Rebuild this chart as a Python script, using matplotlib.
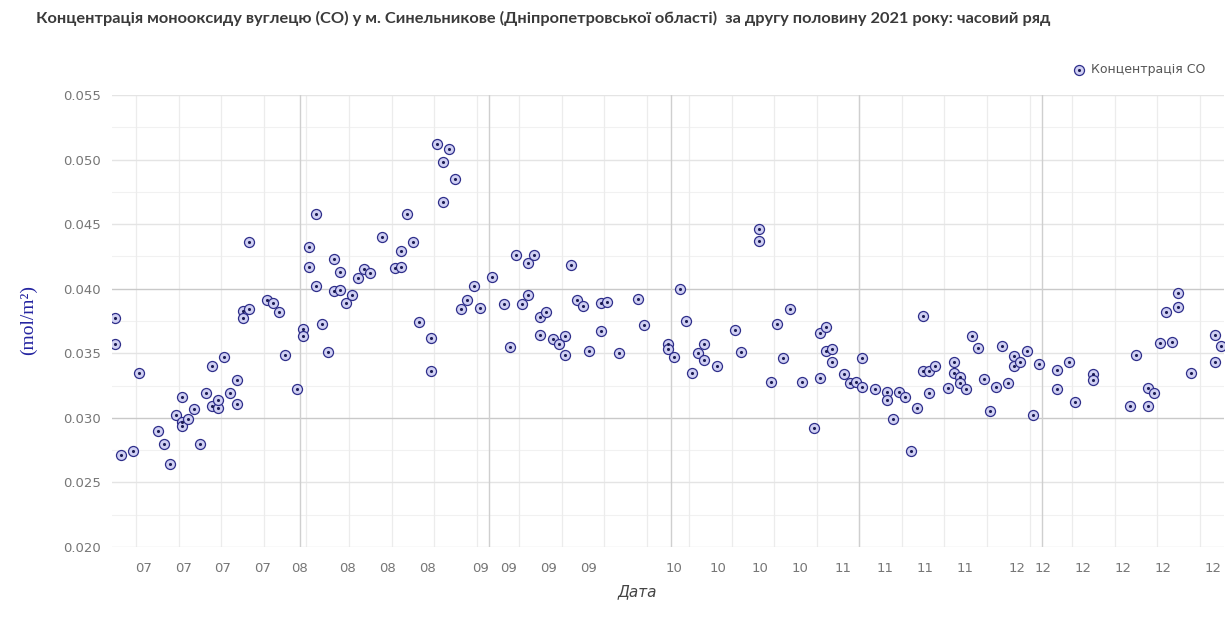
import matplotlib
matplotlib.use("Agg")
import matplotlib.pyplot as plt
from matplotlib.legend_handler import HandlerTuple
import pandas as pd
import numpy as np

title = ("Концентрація монооксиду вуглецю (CO) у м. Синельникове (Дніпропетровської області)  "
         "за другу половину 2021 року: часовий ряд")
series_name = "Концентрація CO"
x_title = "Дата"
y_title = "(mol/m²)"

dates = [
    "2021-07-01", "2021-07-01", "2021-07-02", "2021-07-04", "2021-07-05", "2021-07-08", "2021-07-09",
    "2021-07-10", "2021-07-11", "2021-07-12", "2021-07-12", "2021-07-12", "2021-07-13", "2021-07-14",
    "2021-07-15", "2021-07-16", "2021-07-17", "2021-07-17", "2021-07-18", "2021-07-18", "2021-07-19",
    "2021-07-20", "2021-07-21", "2021-07-21", "2021-07-22", "2021-07-22", "2021-07-23", "2021-07-23",
    "2021-07-26", "2021-07-27", "2021-07-28", "2021-07-29", "2021-07-31",
    "2021-08-01", "2021-08-01", "2021-08-02", "2021-08-02", "2021-08-03", "2021-08-03", "2021-08-04",
    "2021-08-05", "2021-08-06", "2021-08-06", "2021-08-07", "2021-08-07", "2021-08-08", "2021-08-09",
    "2021-08-10", "2021-08-11", "2021-08-12", "2021-08-14", "2021-08-16", "2021-08-17", "2021-08-17",
    "2021-08-18", "2021-08-19", "2021-08-20", "2021-08-22", "2021-08-22", "2021-08-23", "2021-08-24",
    "2021-08-24", "2021-08-25", "2021-08-26", "2021-08-27", "2021-08-28", "2021-08-29", "2021-08-30",
    "2021-09-01", "2021-09-03", "2021-09-04", "2021-09-05", "2021-09-06", "2021-09-07", "2021-09-07",
    "2021-09-08", "2021-09-09", "2021-09-09", "2021-09-10", "2021-09-11", "2021-09-12", "2021-09-13",
    "2021-09-13", "2021-09-14", "2021-09-15", "2021-09-16", "2021-09-17", "2021-09-19", "2021-09-19",
    "2021-09-20", "2021-09-22", "2021-09-25", "2021-09-26", "2021-09-30", "2021-09-30",
    "2021-10-01", "2021-10-02", "2021-10-03", "2021-10-04", "2021-10-05", "2021-10-06", "2021-10-06",
    "2021-10-08", "2021-10-11", "2021-10-12", "2021-10-15", "2021-10-15", "2021-10-17", "2021-10-18",
    "2021-10-19", "2021-10-20", "2021-10-22", "2021-10-24", "2021-10-25", "2021-10-25", "2021-10-26",
    "2021-10-26", "2021-10-27", "2021-10-27", "2021-10-29", "2021-10-30", "2021-10-31",
    "2021-11-01", "2021-11-01", "2021-11-03", "2021-11-05", "2021-11-05", "2021-11-06", "2021-11-07",
    "2021-11-08", "2021-11-09", "2021-11-10", "2021-11-11", "2021-11-11", "2021-11-12", "2021-11-12",
    "2021-11-13", "2021-11-15", "2021-11-16", "2021-11-16", "2021-11-17", "2021-11-17", "2021-11-18",
    "2021-11-19", "2021-11-20", "2021-11-21", "2021-11-22", "2021-11-23", "2021-11-24", "2021-11-25",
    "2021-11-26", "2021-11-26", "2021-11-27", "2021-11-28", "2021-11-29", "2021-11-30",
    "2021-12-03", "2021-12-03", "2021-12-05", "2021-12-06", "2021-12-09", "2021-12-09", "2021-12-15",
    "2021-12-16", "2021-12-18", "2021-12-18", "2021-12-19", "2021-12-20", "2021-12-21", "2021-12-22",
    "2021-12-23", "2021-12-23", "2021-12-25", "2021-12-29", "2021-12-29", "2021-12-30",
]

co_values = [
    0.0377, 0.0357, 0.0271, 0.0274, 0.0335, 0.0290, 0.0280,
    0.0264, 0.0302, 0.0297, 0.0294, 0.0316, 0.0299, 0.0307,
    0.0280, 0.0319, 0.0340, 0.0309, 0.0308, 0.0314, 0.0347,
    0.0319, 0.0329, 0.0311, 0.0383, 0.0377, 0.0384, 0.0436,
    0.0391, 0.0389, 0.0382, 0.0349, 0.0322,
    0.0369, 0.0363, 0.0432, 0.0417, 0.0458, 0.0402, 0.0373,
    0.0351, 0.0423, 0.0398, 0.0413, 0.0399, 0.0389, 0.0395,
    0.0408, 0.0415, 0.0412, 0.0440, 0.0416, 0.0417, 0.0429,
    0.0458, 0.0436, 0.0374, 0.0362, 0.0336, 0.0512, 0.0498,
    0.0467, 0.0508, 0.0485, 0.0384, 0.0391, 0.0402, 0.0385,
    0.0409, 0.0388, 0.0355, 0.0426, 0.0388, 0.0420, 0.0395,
    0.0426, 0.0378, 0.0364, 0.0382, 0.0361, 0.0357, 0.0363,
    0.0349, 0.0418, 0.0391, 0.0387, 0.0352, 0.0389, 0.0367,
    0.0390, 0.0350, 0.0392, 0.0372, 0.0357, 0.0353,
    0.0347, 0.0400, 0.0375, 0.0335, 0.0350, 0.0357, 0.0345,
    0.0340, 0.0368, 0.0351, 0.0446, 0.0437, 0.0328, 0.0373,
    0.0346, 0.0384, 0.0328, 0.0292, 0.0331, 0.0366, 0.0370,
    0.0352, 0.0353, 0.0343, 0.0334, 0.0327, 0.0328,
    0.0324, 0.0346, 0.0322, 0.0320, 0.0314, 0.0299, 0.0320,
    0.0316, 0.0274, 0.0308, 0.0379, 0.0336, 0.0336, 0.0319,
    0.0340, 0.0323, 0.0343, 0.0335, 0.0332, 0.0327, 0.0322,
    0.0363, 0.0354, 0.0330, 0.0305, 0.0324, 0.0356, 0.0327,
    0.0348, 0.0340, 0.0343, 0.0352, 0.0302, 0.0342,
    0.0337, 0.0322, 0.0343, 0.0312, 0.0334, 0.0329, 0.0309,
    0.0349, 0.0309, 0.0323, 0.0319, 0.0358, 0.0382, 0.0359,
    0.0386, 0.0397, 0.0335, 0.0364, 0.0343, 0.0356,
]

tick_dates = [
    "2021-07-06 05:00", "2021-07-12 19:00", "2021-07-19 05:00", "2021-07-25 19:00",
    "2021-07-31 19:00", "2021-08-08 17:00", "2021-08-15 07:00", "2021-08-22 00:00",
    "2021-08-30 14:00", "2021-09-04 05:00", "2021-09-10 19:00", "2021-09-17 10:00",
    "2021-10-01 12:00", "2021-10-08 19:00", "2021-10-15 17:00", "2021-10-22 05:00",
    "2021-10-29 07:00", "2021-11-05 05:00", "2021-11-11 19:00", "2021-11-18 10:00",
    "2021-11-26 22:00", "2021-12-01 05:00", "2021-12-07 19:00", "2021-12-14 10:00",
    "2021-12-21 00:00", "2021-12-29 05:00",
]
tick_labels = [
    "07", "07", "07", "07", "08", "08", "08", "08", "09", "09", "09", "09",
    "10", "10", "10", "10", "11", "11", "11", "11", "12", "12", "12", "12", "12", "12",
]
y_ticks = [0.020, 0.025, 0.030, 0.035, 0.040, 0.045, 0.050, 0.055]
y_tick_labels = ["0.020", "0.025", "0.030", "0.035", "0.040", "0.045", "0.050", "0.055"]

x_start = "2021-07-01"
x_end = "2021-12-31"

# ---------------------------------------------------------------
W, H = 1227, 625
fig = plt.figure(figsize=(W / 100, H / 100), dpi=100)
fig.patch.set_facecolor("white")

ax_l, ax_r, ax_t, ax_b = 112, 1224, 95, 547
ax = fig.add_axes([ax_l / W, 1 - ax_b / H, (ax_r - ax_l) / W, (ax_b - ax_t) / H])
ax.set_facecolor("white")

x = pd.to_datetime(dates) + pd.Timedelta(hours=12)
y = np.array(co_values)

ax.set_xlim(pd.Timestamp(x_start), pd.Timestamp(x_end))
ax.set_ylim(0.020, 0.055)

# grid: minor horizontal, weekly vertical, monthly vertical
for v in np.arange(0.0225, 0.055, 0.005):
    ax.axhline(v, color="#f1f1f1", lw=0.8, zorder=0)
for v in y_ticks:
    c = "#c9c9c9" if round(v, 3) in (0.030, 0.040) else "#e4e4e4"
    ax.axhline(v, color=c, lw=1.0, zorder=0.5)
mondays = pd.date_range(x_start, x_end, freq="W-MON")
for d in mondays:
    ax.axvline(d, color="#ececec", lw=0.9, zorder=0)
month_starts = pd.date_range("2021-08-01", x_end, freq="MS")
for d in month_starts:
    ax.axvline(d, color="#cfcfcf", lw=1.0, zorder=0.5)

outer = ax.scatter(x, y, s=52, facecolor="#d0d0f3", edgecolor="#2e2e8a", linewidths=0.9, zorder=3)
inner = ax.scatter(x, y, s=5, color="#1c1c55", linewidths=0, zorder=4)

ax.set_xticks(pd.to_datetime(tick_dates))
ax.set_xticklabels(tick_labels)
ax.set_yticks(y_ticks)
ax.set_yticklabels(y_tick_labels)
ax.tick_params(axis="both", length=0, colors="#767676", labelsize=9.5)
ax.tick_params(axis="x", pad=11)
ax.tick_params(axis="y", pad=8)
for s in ax.spines.values():
    s.set_visible(False)
ax.set_axisbelow(True)

fig.text(36 / W, 1 - 18 / H, title, fontsize=11.8, fontweight="bold", color="#3a3a3a",
         family=["Lato", "DejaVu Sans"], ha="left", va="center")

fig.text(637 / W, 1 - 592 / H, x_title, fontsize=11, style="italic", color="#444444",
         ha="center", va="center")
fig.text(28 / W, 1 - 320 / H, y_title, fontsize=14, color="#2424a0", rotation=90,
         family=["Liberation Serif", "DejaVu Serif"], ha="center", va="center")

fig.legend([(outer, inner)], [series_name], loc="center right",
           bbox_to_anchor=(1210 / W, 1 - 70 / H), frameon=False, fontsize=9,
           labelcolor="#555555", handler_map={tuple: HandlerTuple(ndivide=1, pad=0)},
           handletextpad=0.4, handlelength=1.0, borderaxespad=0)

fig.savefig("out.png", dpi=100, facecolor="white")
